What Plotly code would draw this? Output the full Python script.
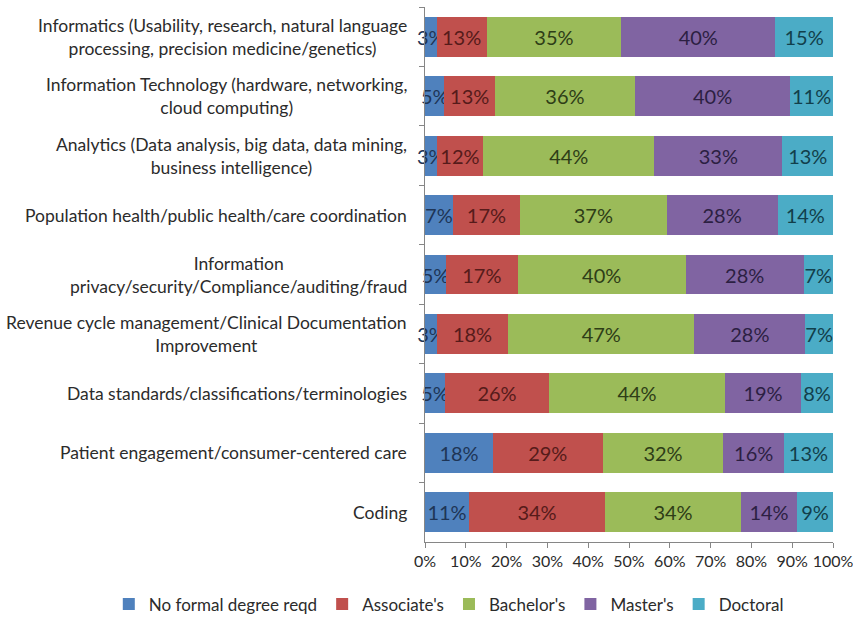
import plotly.graph_objects as go

# Job areas, listed top to bottom
categories = [
    "Informatics (Usability, research, natural language<br>processing, precision medicine/genetics)",
    "Information Technology (hardware, networking,<br>cloud computing)",
    "Analytics (Data analysis, big data, data mining,<br>business intelligence)",
    "Population health/public health/care coordination",
    "Information<br>privacy/security/Compliance/auditing/fraud",
    "Revenue cycle management/Clinical Documentation<br>Improvement",
    "Data standards/classifications/terminologies",
    "Patient engagement/consumer-centered care",
    "Coding",
]

# Share of respondents (%) by degree level
no_formal = [3, 5, 3, 7, 5, 3, 5, 18, 11]
associates = [13, 13, 12, 17, 17, 18, 26, 29, 34]
bachelors = [35, 36, 44, 37, 40, 47, 44, 32, 34]
masters = [40, 40, 33, 28, 28, 28, 19, 16, 14]
doctoral = [15, 11, 13, 14, 7, 7, 8, 13, 9]

x_ticks = [0, 10, 20, 30, 40, 50, 60, 70, 80, 90, 100]
x_tick_labels = [f"{t}%" for t in x_ticks]

series = [
    ("No formal degree reqd", no_formal, "#4F81BD", "#1E3556"),
    ("Associate's", associates, "#C0504D", "#561B1A"),
    ("Bachelor's", bachelors, "#9BBB59", "#2E3D17"),
    ("Master's", masters, "#8064A2", "#2C1F42"),
    ("Doctoral", doctoral, "#4BACC6", "#123F4B"),
]

FONT = "Lato"
TEXT = "#2b2b2b"

fig = go.Figure()
for name, vals, color, tcolor in series:
    fig.add_trace(go.Bar(
        name=name,
        y=categories,
        x=vals,
        orientation="h",
        marker=dict(color=color, line=dict(width=0)),
        text=[f"{v}%" for v in vals],
        textposition="inside",
        insidetextanchor="middle",
        textangle=0,
        constraintext="none",
        cliponaxis=False,
        textfont=dict(family=FONT, size=20, color=tcolor),
        hoverinfo="skip",
    ))

# Category labels with centred line wrapping
for cat in categories:
    fig.add_annotation(
        x=0, xref="paper", xanchor="right", xshift=-16,
        y=cat, yref="y",
        text=cat, showarrow=False, align="center",
        font=dict(family=FONT, size=17.5, color=TEXT),
    )

fig.update_layout(
    width=853, height=628,
    barmode="stack", barnorm="percent", bargap=0.33,
    plot_bgcolor="white", paper_bgcolor="white",
    margin=dict(l=425, r=20, t=7, b=86, autoexpand=False),
    font=dict(family=FONT, size=17, color=TEXT),
    legend=dict(
        orientation="h", x=-0.775, xanchor="left",
        y=-0.083, yanchor="top",
        font=dict(family=FONT, size=17, color=TEXT),
        traceorder="normal",
    ),
    showlegend=True,
)

fig.update_xaxes(
    range=[0, 100], tickvals=x_ticks, ticktext=x_tick_labels,
    showgrid=False, zeroline=False,
    showline=True, linecolor="#868686", linewidth=1,
    ticks="outside", ticklen=5, tickcolor="#868686",
    ticklabeloverflow="allow",
    tickfont=dict(family=FONT, size=16, color=TEXT),
)
fig.update_yaxes(
    autorange="reversed", showticklabels=False,
    showgrid=False, zeroline=False,
    showline=True, linecolor="#868686", linewidth=1,
    ticks="outside", ticklen=5, tickcolor="#868686", tickson="boundaries",
)

fig.write_html("out.html")
